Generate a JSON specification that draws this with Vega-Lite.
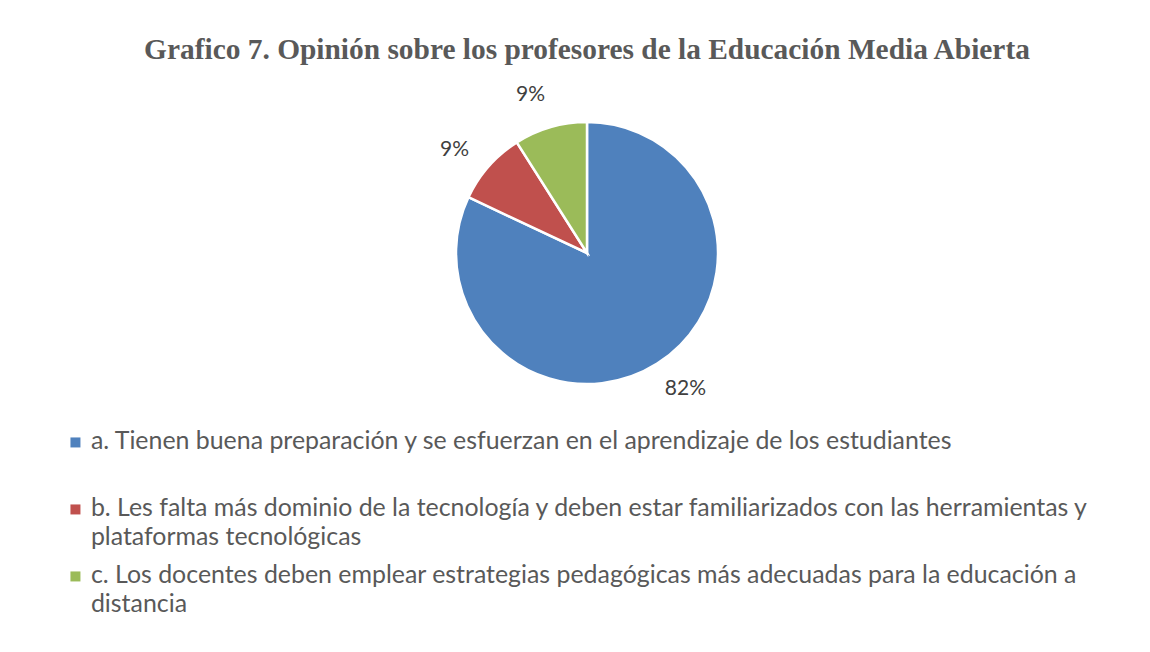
{
  "$schema": "https://vega.github.io/schema/vega-lite/v6.json",
  "autosize": "none",
  "width": 1126,
  "height": 306,
  "padding": {"left": 24, "top": 100, "right": 0, "bottom": 246},
  "background": "white",
  "title": {
    "text": "Grafico 7. Opinión sobre los profesores de la Educación Media Abierta",
    "font": "Liberation Serif",
    "fontSize": 29.4,
    "fontWeight": "bold",
    "color": "#595959",
    "anchor": "middle",
    "frame": "group",
    "baseline": "alphabetic",
    "offset": 37,
    "dy": 42
  },
  "data": {
    "values": [
      {"categoria": "a. Tienen buena preparación y se esfuerzan en el aprendizaje de los estudiantes", "porcentaje": 0.82, "orden": 1},
      {"categoria": "b. Les falta más dominio de la tecnología y deben estar familiarizados con las herramientas y\nplataformas tecnológicas", "porcentaje": 0.09, "orden": 2},
      {"categoria": "c. Los docentes deben emplear estrategias pedagógicas más adecuadas para la educación a\ndistancia", "porcentaje": 0.09, "orden": 3}
    ]
  },
  "encoding": {
    "theta": {"field": "porcentaje", "type": "quantitative", "stack": true},
    "order": {"field": "orden", "type": "quantitative"},
    "color": {
      "field": "categoria",
      "type": "nominal",
      "sort": null,
      "scale": {"range": ["#4F81BD", "#C0504D", "#9BBB59"]},
      "legend": {
        "title": null,
        "orient": "none",
        "direction": "vertical",
        "legendX": 39,
        "legendY": 330,
        "symbolType": "square",
        "symbolSize": 100,
        "symbolStrokeWidth": 0,
        "labelFont": "Lato",
        "labelFontSize": 24.9,
        "labelColor": "#595959",
        "labelLimit": 1200,
        "labelOffset": 3,
        "rowPadding": 12,
        "labelExpr": "length(split(datum.label, '\\n')) == 1 ? [datum.label, ' '] : split(datum.label, '\\n')"
      }
    }
  },
  "layer": [
    {
      "mark": {"type": "arc", "outerRadius": 131, "stroke": "white", "strokeWidth": 2.5}
    },
    {
      "mark": {"type": "text", "radius": 168, "thetaOffset": -0.06, "font": "Lato", "fontSize": 21},
      "encoding": {
        "text": {"field": "porcentaje", "type": "quantitative", "format": ".0%"},
        "color": {"value": "#404040"}
      }
    }
  ],
  "config": {
    "view": {"stroke": null},
    "style": {"guide-label": {"lineHeight": 29}}
  }
}
